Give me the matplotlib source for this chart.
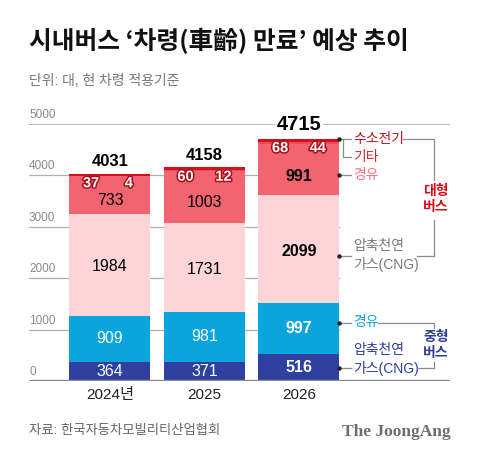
import matplotlib
matplotlib.use('Agg')
import matplotlib.pyplot as plt
import matplotlib.patheffects as pe
from matplotlib.lines import Line2D

plt.rcParams['font.family'] = ['Liberation Sans', 'Noto Sans CJK KR']

years = ['2024년', '2025', '2026']
mid_cng = [364, 371, 516]
mid_diesel = [909, 981, 997]
large_cng = [1984, 1731, 2099]
large_diesel = [733, 1003, 991]
others = [4, 12, 44]
hydrogen = [37, 60, 68]
yticks = [0, 1000, 2000, 3000, 4000, 5000]

C_MCNG = '#2f41a0'
C_MDSL = '#0ba5dd'
C_LCNG = '#fdd4d7'
C_LDSL = '#f2646f'
C_OTH = '#ee4c59'
C_H2 = '#d4101c'

W, H = 480, 458
fig = plt.figure(figsize=(4.8, 4.58), dpi=100)


def P(x, y):
    # pixel position -> figure fraction
    return x / W, 1 - y / H


ax = fig.add_axes([29 / W, (H - 381) / H, (450 - 29) / W, (381 - 124) / H])
ax.set_xlim(-0.857, 3.598)
ax.set_ylim(0, 5000)
ax.axis('off')

xs = list(range(len(years)))
bw = 0.857

# grid
for v in yticks[1:-1]:
    ax.plot([-0.857, 2 + bw / 2], [v, v], color='#b0b0b0', lw=0.9, zorder=0)
ax.plot([-0.857, 3.598], [5000, 5000], color='#aaaaaa', lw=1.2, zorder=0)
for v in yticks:
    ax.text(-0.857, v + 60, str(v), fontsize=8.5, color='#8a8a8a', ha='left', va='bottom')

bottom = [0, 0, 0]
segs = [(mid_cng, C_MCNG), (mid_diesel, C_MDSL), (large_cng, C_LCNG),
        (large_diesel, C_LDSL), (others, C_OTH), (hydrogen, C_H2)]
starts = []
for vals, col in segs:
    ax.bar(xs, vals, bw, bottom=bottom, color=col, zorder=2, linewidth=0)
    starts.append(list(bottom))
    bottom = [b + v for b, v in zip(bottom, vals)]
totals = bottom

ax.plot([-0.857, 3.598], [0, 0], color='#8c8c8c', lw=2.4, zorder=3, solid_capstyle='butt')

for i in xs:
    wt = 'bold' if i == 2 else 'normal'
    ax.text(i, starts[0][i] + mid_cng[i] / 2, str(mid_cng[i]), color='white',
            fontsize=11.5, ha='center', va='center', weight=wt, zorder=4)
    ax.text(i, starts[1][i] + mid_diesel[i] / 2, str(mid_diesel[i]), color='white',
            fontsize=11.5, ha='center', va='center', weight=wt, zorder=4)
    ax.text(i, starts[2][i] + large_cng[i] / 2 - 40, str(large_cng[i]), color='black',
            fontsize=11.5, ha='center', va='center', weight=wt, zorder=4)
    ax.text(i, starts[3][i] + large_diesel[i] / 2 - 120, str(large_diesel[i]), color='black',
            fontsize=11.5, ha='center', va='center', weight=wt, zorder=4)
    stroke = [pe.withStroke(linewidth=2.2, foreground='#a8101c')]
    ax.text(i - 0.2, totals[i] - 183, str(hydrogen[i]), color='white', fontsize=10.5,
            ha='center', va='center', weight='bold', path_effects=stroke, zorder=4)
    ax.text(i + 0.2, totals[i] - 183, str(others[i]), color='white', fontsize=10.5,
            ha='center', va='center', weight='bold', path_effects=stroke, zorder=4)
    if i == 2:
        ax.annotate(str(totals[i]), (i, totals[i]), xytext=(0, 14), textcoords='offset pixels',
                    ha='center', va='center', fontsize=14.5, weight='bold', zorder=5,
                    bbox=dict(facecolor='white', edgecolor='none', pad=1.5))
    else:
        ax.annotate(str(totals[i]), (i, totals[i]), xytext=(0, 12), textcoords='offset pixels',
                    ha='center', va='center', fontsize=12, weight='bold', zorder=5)
    ax.text(i, -270, years[i], fontsize=11, ha='center', va='center', color='#222222')

# titles and footer
fig.text(*P(29, 41), '시내버스 ‘차령(車齡) 만료’ 예상 추이', fontsize=17.8, weight='bold',
         family=['Noto Sans CJK KR'], ha='left', va='center', color='#111111')
fig.text(*P(29, 81), '단위: 대, 현 차령 적용기준', fontsize=10, ha='left', va='center', color='#777777')
fig.text(*P(29, 431), '자료: 한국자동차모빌리티산업협회', fontsize=9.6, ha='left', va='center', color='#666666')
fig.text(*P(451, 432), 'The JoongAng', fontsize=12.5, weight='bold', family='Liberation Serif',
         ha='right', va='center', color='#6e6e6e')


def line(pts, color='#8a8a8a', lw=0.9):
    xx = [p[0] / W for p in pts]
    yy = [1 - p[1] / H for p in pts]
    fig.add_artist(Line2D(xx, yy, transform=fig.transFigure, color=color, lw=lw, zorder=6))


def dot(x, y):
    fig.add_artist(Line2D([x / W], [1 - y / H], transform=fig.transFigure, marker='o',
                          ms=2.2, color='#222222', zorder=7))


# right-side legend annotations
tx = 353
line([(339, 139), (351, 139)])
line([(343, 139), (343, 157), (351, 157)])
dot(339, 139)
fig.text(*P(tx, 139), '수소전기', fontsize=10, color='#b8141e', ha='left', va='center')
fig.text(*P(tx, 157), '기타', fontsize=10, color='#d42a36', ha='left', va='center')
line([(339, 175), (351, 175)])
dot(339, 175)
fig.text(*P(tx, 175), '경유', fontsize=10, color='#f07482', ha='left', va='center')
line([(339, 256), (351, 256)])
dot(339, 256)
fig.text(*P(tx, 246), '압축천연', fontsize=10, color='#7a7a7a', ha='left', va='center')
fig.text(*P(tx, 265), '가스(CNG)', fontsize=10, color='#7a7a7a', ha='left', va='center')
line([(339, 323), (351, 323)])
dot(339, 323)
fig.text(*P(tx, 322), '경유', fontsize=10, color='#12a2d8', ha='left', va='center')
line([(339, 368), (351, 368)])
dot(339, 368)
fig.text(*P(tx, 350), '압축천연', fontsize=10, color='#2f3f9c', ha='left', va='center')
fig.text(*P(tx, 368), '가스(CNG)', fontsize=10, color='#2f3f9c', ha='left', va='center')

# brackets
line([(403, 139), (434, 139), (434, 180)])
line([(434, 220), (434, 256), (417, 256)])
fig.text(*P(436, 199), '대형\n버스', fontsize=10, weight='bold', color='#d4101c',
         ha='center', va='center', linespacing=1.15)
line([(378, 323), (434, 323), (434, 328)])
line([(434, 362), (434, 368), (417, 368)])
fig.text(*P(436, 345), '중형\n버스', fontsize=10, weight='bold', color='#2f3f9c',
         ha='center', va='center', linespacing=1.15)

fig.savefig('out.png', dpi=100)
